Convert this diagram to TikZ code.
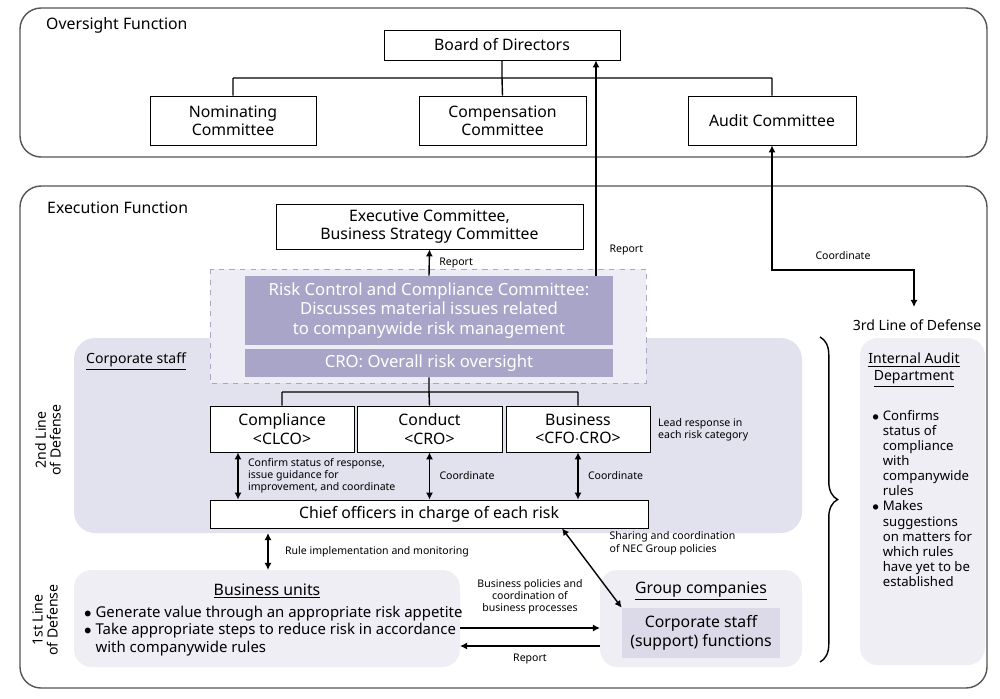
\documentclass[tikz,border=0pt]{standalone}
\usepackage{fontspec}
\setmainfont{Noto Sans}
\usetikzlibrary{arrows.meta,positioning,decorations.pathreplacing}
\definecolor{riskpurple}{HTML}{A9A5C9}
\definecolor{staffbg}{HTML}{E2E1EE}
\definecolor{lightbg}{HTML}{EFEEF5}
\definecolor{supportbg}{HTML}{DCDAE8}
\definecolor{linegray}{HTML}{555555}
\begin{document}
\begin{tikzpicture}[x=0.02cm,y=-0.02cm,
            box/.style={draw,rectangle,fill=white,inner sep=0,align=center,font=\fontsize{9}{10.5}\selectfont},
            risk/.style={rectangle,fill=riskpurple,text=white,inner sep=0,align=center,font=\fontsize{9.5}{11}\selectfont},
            region/.style={draw=linegray,rounded corners=12pt,thick},
            area/.style={fill=lightbg,rounded corners=10pt},
            title/.style={anchor=west,font=\fontsize{9}{10}\selectfont},
            lab/.style={font=\fontsize{6}{7}\selectfont,align=left,anchor=west},
            side/.style={rotate=90,align=center,font=\fontsize{8}{8.5}\selectfont},
            arr/.style={draw,thick,-{Latex[length=4pt,width=4pt]}},
            darr/.style={draw,thick,{Latex[length=4pt,width=4pt]}-{Latex[length=4pt,width=4pt]}},
            tree/.style={draw,thick}
          ]
          \useasboundingbox (0,0) rectangle (1000,698);

          %frames
          \draw[region] (20,8) rectangle (987,157);
          \draw[region] (20,186) rectangle (987,688);
          \node[title] at (40,25) {Oversight Function};
          \node[title] at (41,208) {Execution Function};

          %shaded areas
          \fill[staffbg,rounded corners=12pt] (74,338) rectangle (802,533);
          \fill[area] (74,570) rectangle (460,667);
          \fill[area] (600,570) rectangle (802,667);
          \fill[area] (860,338) rectangle (985,665);
          \draw[dashed,draw=riskpurple,fill=staffbg!60] (210,269) rectangle (646,383);

          %oversight
          \node[box,minimum width=4.72cm,minimum height=.6cm] (board) at (502,45) {Board of Directors};
          \node[box,minimum width=3.32cm,minimum height=.98cm] (nom) at (233,120.5) {Nominating\\Committee};
          \node[box,minimum width=3.34cm,minimum height=.98cm] (comp) at (502.5,120.5) {Compensation\\Committee};
          \node[box,minimum width=3.36cm,minimum height=.98cm] (audit) at (772,120.5) {Audit Committee};

          %execution
          \node[box,minimum width=6.14cm,minimum height=.9cm] (exec) at (429.5,226.5) {Executive Committee,\\Business Strategy Committee};
          \node[risk,minimum width=7.36cm,minimum height=1.38cm] (rcc) at (429,310.5) {Risk Control and Compliance Committee:\\Discusses material issues related\\to companywide risk management};
          \node[risk,minimum width=7.36cm,minimum height=.56cm] (cro) at (429,363) {CRO: Overall risk oversight};
          \node[box,minimum width=2.88cm,minimum height=.92cm] (clco) at (282,429) {Compliance\\<CLCO>};
          \node[box,minimum width=2.9cm,minimum height=.92cm] (cond) at (429.5,429) {Conduct\\<CRO>};
          \node[box,minimum width=2.88cm,minimum height=.92cm] (bus) at (578,429) {Business\\<CFO$\cdot$CRO>};
          \node[box,minimum width=8.76cm,minimum height=.56cm] (chief) at (429,514) {Chief officers in charge of each risk};
          \node[box,draw=none,fill=supportbg,minimum width=3.16cm,minimum height=1cm] (support) at (701,633) {Corporate staff\\(support) functions};
          \coordinate (bu) at (460,637);
          \coordinate (ia) at (914,307);

          %labels
          \node[title,font=\fontsize{8}{9}\selectfont] at (80,362) {\underline{Corporate staff}};
          \node[box,draw=none,fill=none] at (267,591) {\underline{Business units}};
          \node[box,draw=none,fill=none] at (701,591) {\underline{Group companies}};
          \node[anchor=west,align=left,font=\fontsize{8.5}{10}\selectfont] at (78,631)
            {$\bullet$ Generate value through an appropriate risk appetite\\$\bullet$ Take appropriate steps to reduce risk in accordance\\\phantom{$\bullet$ }with companywide rules};
          \node[side] at (48,440) {2nd Line\\of Defense};
          \node[side] at (45,620) {1st Line\\of Defense};
          \node[font=\fontsize{8}{9}\selectfont] at (917,325) {3rd Line of Defense};
          \node[font=\fontsize{8}{9.5}\selectfont,align=center] at (914,370) {\underline{Internal Audit}\\\underline{Department}};
          \node[anchor=north west,align=left,font=\fontsize{7.5}{8.6}\selectfont] at (866,404)
            {$\bullet$ Confirms\\\phantom{$\bullet$ }status of\\\phantom{$\bullet$ }compliance\\\phantom{$\bullet$ }with\\\phantom{$\bullet$ }companywide\\\phantom{$\bullet$ }rules\\$\bullet$ Makes\\\phantom{$\bullet$ }suggestions\\\phantom{$\bullet$ }on matters for\\\phantom{$\bullet$ }which rules\\\phantom{$\bullet$ }have yet to be\\\phantom{$\bullet$ }established};
          \node[lab] at (652,430) {Lead response in\\each risk category};

          %trees
          \draw[tree] (board.south) -- (502,78) (233,78) -- (772,78)
            (233,78) -- (nom.north) (502,78) -- (comp.north) (772,78) -- (audit.north);
          \draw[tree] (cro.south) -- (429,392) (282,392) -- (578,392)
            (282,392) -- (clco.north) (429,392) -- (cond.north) (578,392) -- (bus.north);

          %connectors
          \path[arr] (rcc.north) -- (exec.south) node[lab,pos=.5,right=2pt] {Report};
          \path[arr] (596,276) -- (board.south -| 596,0) node[lab,pos=.12,right=4pt] {Report};
          \path[darr] (clco.south -| 238,0) -- (chief.north -| 238,0) node[lab,midway,right=2pt,font=\fontsize{6}{6.8}\selectfont] {Confirm status of response,\\issue guidance for\\improvement, and coordinate};
          \path[darr] (cond.south) -- (chief.north -| cond.south) node[lab,midway,right=2pt] {Coordinate};
          \path[darr] (bus.south) -- (chief.north -| bus.south) node[lab,midway,right=2pt] {Coordinate};
          \path[darr] (268,533) -- (268,570) node[lab,midway,right=6pt] {Rule implementation and monitoring};
          \path[darr] (chief.south -| 562,0) -- (support.north west) node[lab,pos=.1,right=20pt,yshift=-4pt] {Sharing and coordination\\of NEC Group policies};
          \path[arr] (460,628) -- (600,628) node[midway,above=4pt,align=center,font=\fontsize{6}{7}\selectfont] {Business policies and\\coordination of\\business processes};
          \path[arr] (600,646) -- (460,646) node[midway,below=1pt,font=\fontsize{6}{7}\selectfont] {Report};
          \path[darr] (audit.south) -- (772,270) -| (ia) node[lab,pos=.25,above=2pt,anchor=south] {Coordinate};
          \draw[thick,decorate,decoration={brace,amplitude=10pt}] (820,337) -- (820,662);
      \end{tikzpicture}
\end{document}
